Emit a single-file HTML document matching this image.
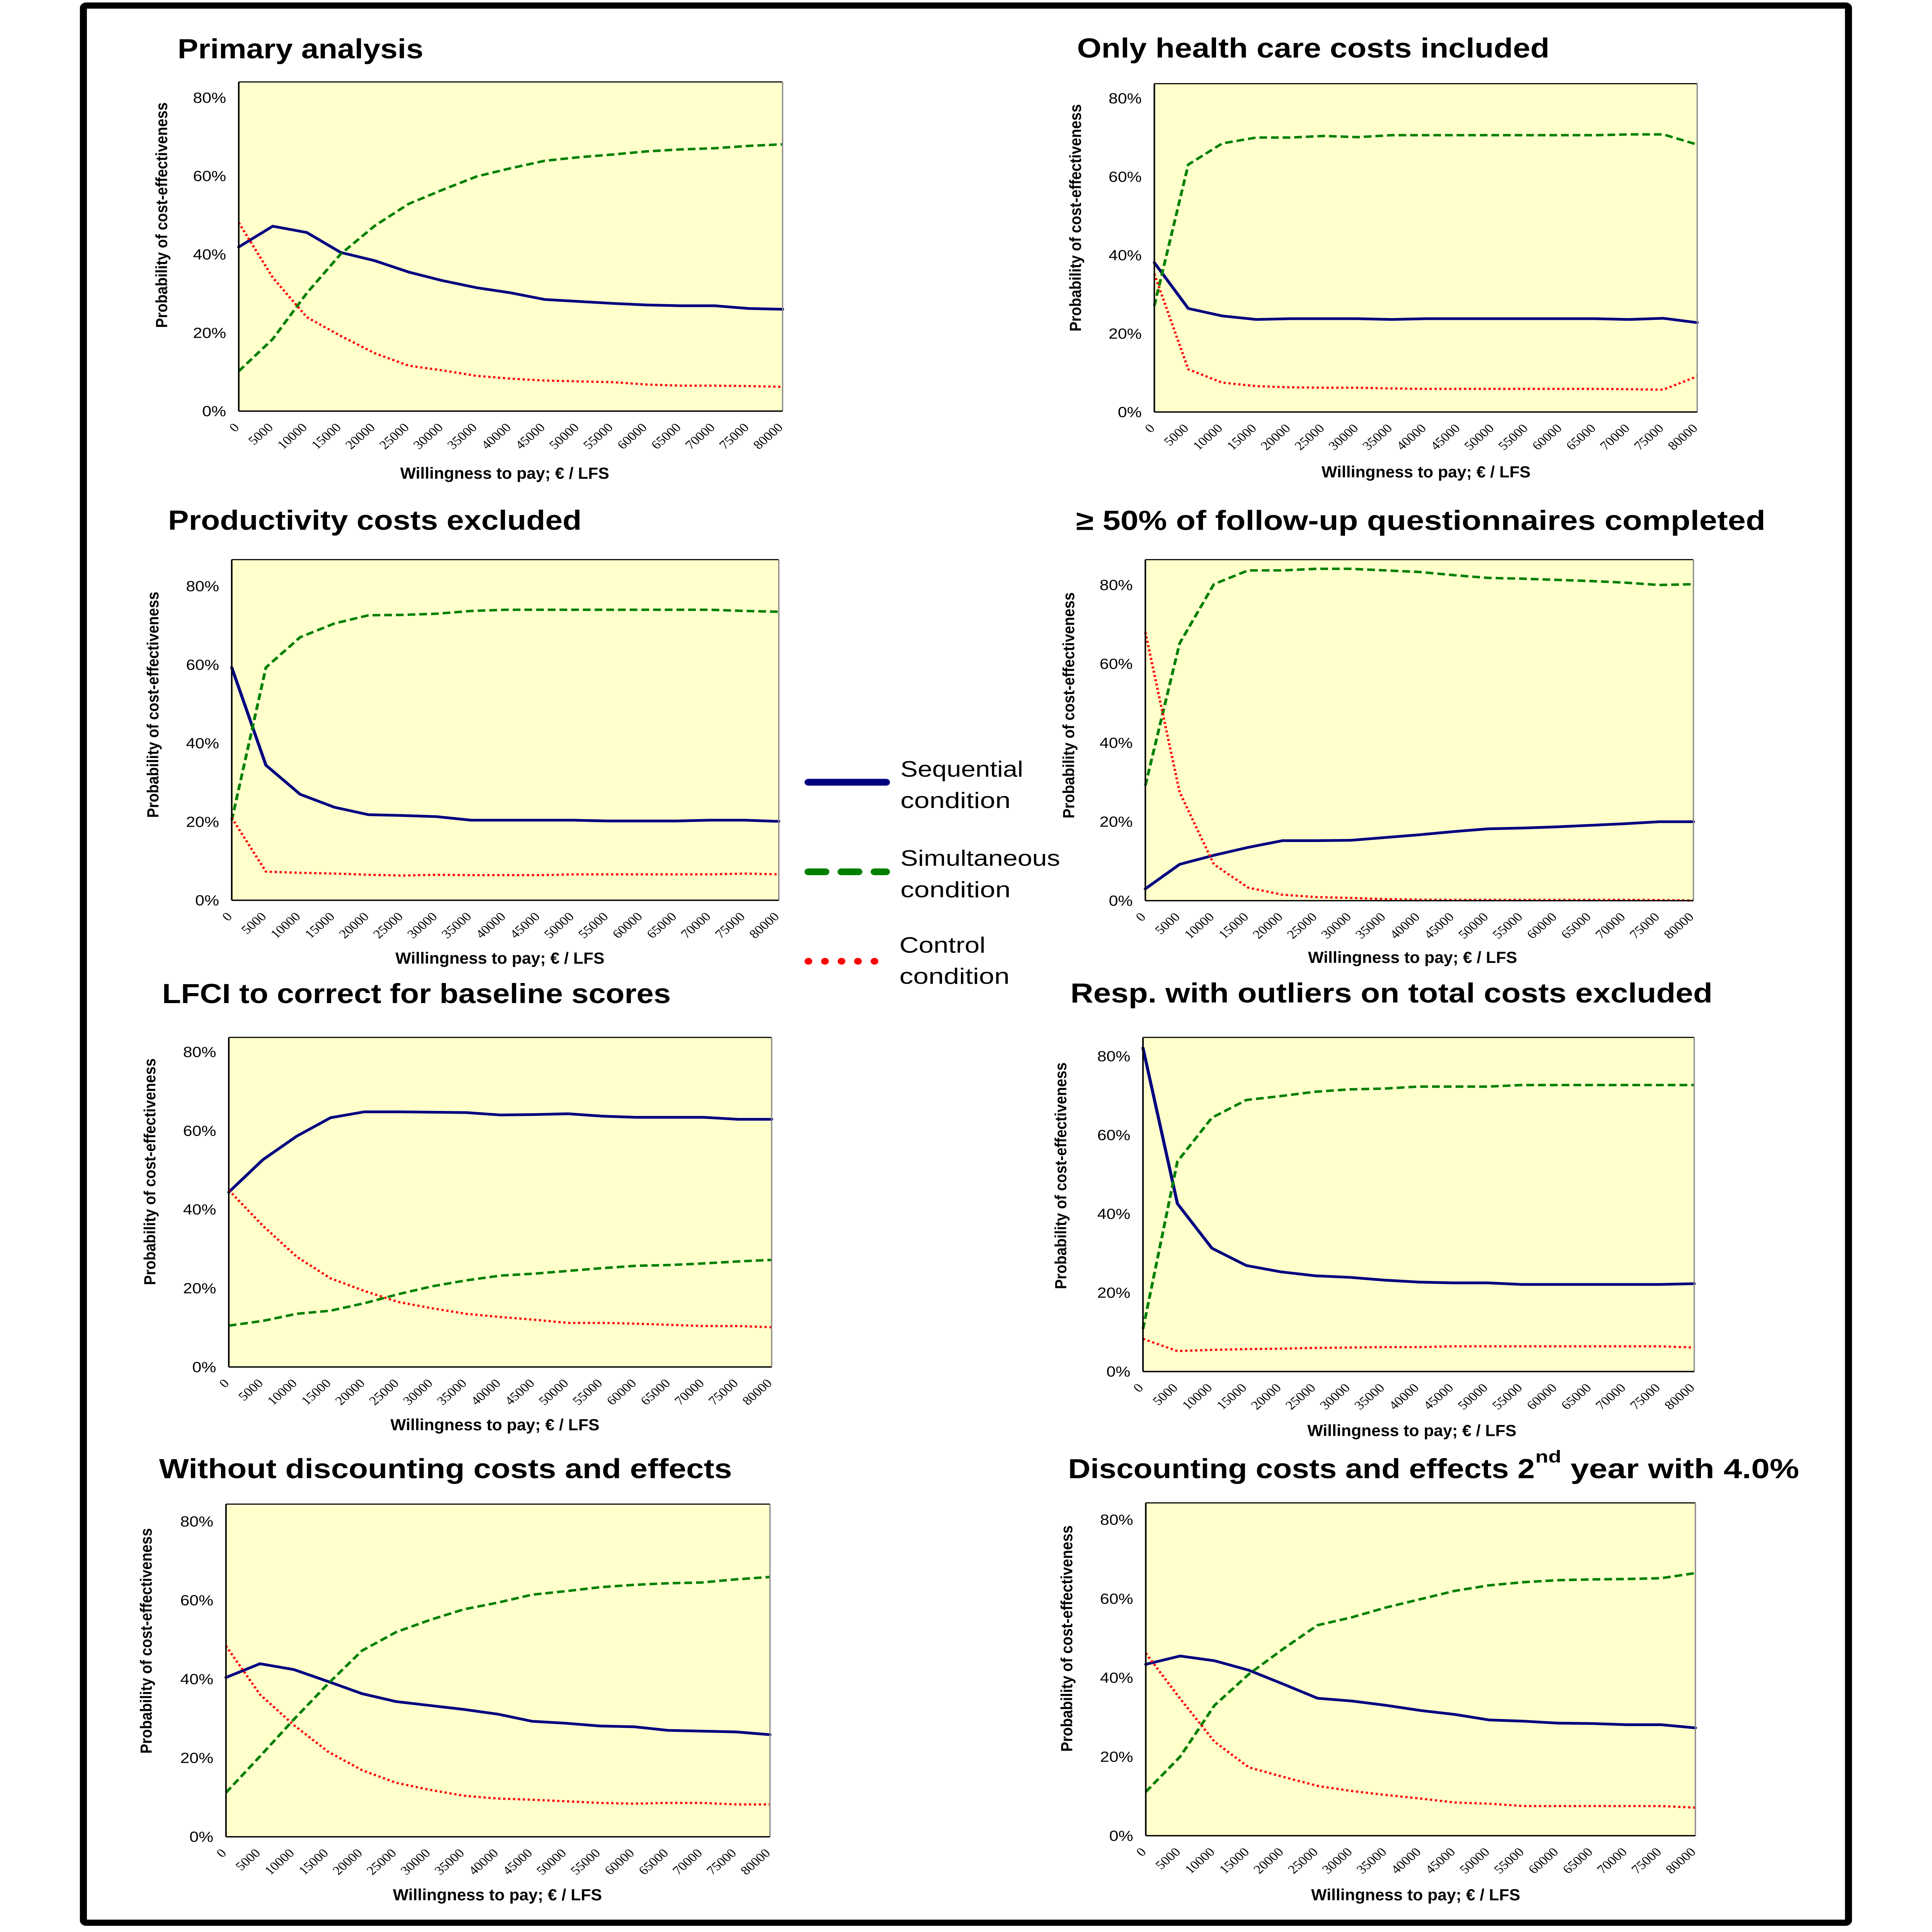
<!DOCTYPE html>
<html>
<head>
<meta charset="utf-8">
<style>
html,body{margin:0;padding:0;background:#fff;overflow:hidden;width:100vw;height:100vh;}
svg{display:block;position:fixed;left:0;top:0;width:100vw;height:100vh;}
text{font-family:"Liberation Sans",sans-serif;fill:#000;}
.tt{font-weight:bold;font-size:22.5px;}
.yl{font-weight:bold;font-size:11.5px;}
.xl{font-weight:bold;font-size:13px;}
.yt{font-size:11.8px;}
.xt text{font-family:"Liberation Serif",serif;font-size:10px;}
.lg{font-size:18px;}
.bl{fill:none;stroke:#000080;stroke-width:0.69;stroke-linejoin:round;stroke-linecap:round;}
.gr{fill:none;stroke:#008000;stroke-width:0.63;stroke-dasharray:1.72 0.88;stroke-linejoin:round;}
.rd{fill:none;stroke:#ff0000;stroke-width:0.56;stroke-dasharray:0.5 0.6;stroke-linejoin:round;}
.pa{fill:#ffffcc;stroke:none;}
</style>
</head>
<body>
<svg viewBox="0 0 1377.28 1568.08" preserveAspectRatio="none" xmlns="http://www.w3.org/2000/svg">
<rect x="0" y="0" width="1377.28" height="1568.08" fill="#fff"/>
<rect x="59.45" y="4.5" width="1258.3" height="1556.05" fill="none" stroke="#000" stroke-width="5" rx="2"/>

<!-- ================= CHART 1 ================= -->
<rect class="pa" x="170.2" y="66.5" width="387.7" height="267.2"/>
<g transform="translate(170.2,333.7) scale(3.1882,-3.18)">
<polyline class="bl" points="0,41.9 7.6,47.2 15.2,45.6 22.8,40.5 30.4,38.4 38,35.5 45.6,33.3 53.2,31.5 60.8,30.2 68.4,28.5 76,28 83.6,27.5 91.2,27.1 98.8,26.9 106.4,26.9 114,26.2 121.6,26"/>
<polyline class="gr" points="0,10.2 7.6,18.4 15.2,30.1 22.8,40.1 30.4,47.3 38,52.9 45.6,56.5 53.2,59.9 60.8,62 68.4,63.9 76,64.8 83.6,65.5 91.2,66.3 98.8,66.8 106.4,67.1 114,67.7 121.6,68.1"/>
<polyline class="rd" points="0,48.1 7.6,34.1 15.2,24 22.8,19.2 30.4,14.8 38,11.6 45.6,10.4 53.2,9 60.8,8.3 68.4,7.8 76,7.6 83.6,7.4 91.2,6.8 98.8,6.5 106.4,6.5 114,6.4 121.6,6.2"/>
</g>
<line x1="170.2" y1="66.5" x2="557.9" y2="66.5" stroke="#000" stroke-width="0.9"/>
<line x1="557.9" y1="66.5" x2="557.9" y2="333.7" stroke="#888" stroke-width="0.9"/>
<line x1="170.2" y1="66.5" x2="170.2" y2="333.7" stroke="#000" stroke-width="1.1"/>
<line x1="170.2" y1="333.7" x2="557.9" y2="333.7" stroke="#000" stroke-width="1.1"/>
<g class="yt" text-anchor="end">
<text x="161.2" y="337.8">0%</text><text x="161.2" y="274.2">20%</text><text x="161.2" y="210.6">40%</text><text x="161.2" y="147.0">60%</text><text x="161.2" y="83.4">80%</text>
</g>
<g class="xt" text-anchor="end" transform="translate(171.0,347.5) scale(1.0012,1)">
<text transform="translate(0,0) rotate(-45)">0</text>
<text transform="translate(24.2,0) rotate(-45)">5000</text>
<text transform="translate(48.4,0) rotate(-45)">10000</text>
<text transform="translate(72.6,0) rotate(-45)">15000</text>
<text transform="translate(96.8,0) rotate(-45)">20000</text>
<text transform="translate(121,0) rotate(-45)">25000</text>
<text transform="translate(145.2,0) rotate(-45)">30000</text>
<text transform="translate(169.4,0) rotate(-45)">35000</text>
<text transform="translate(193.6,0) rotate(-45)">40000</text>
<text transform="translate(217.8,0) rotate(-45)">45000</text>
<text transform="translate(242,0) rotate(-45)">50000</text>
<text transform="translate(266.2,0) rotate(-45)">55000</text>
<text transform="translate(290.4,0) rotate(-45)">60000</text>
<text transform="translate(314.6,0) rotate(-45)">65000</text>
<text transform="translate(338.8,0) rotate(-45)">70000</text>
<text transform="translate(363,0) rotate(-45)">75000</text>
<text transform="translate(387.2,0) rotate(-45)">80000</text>
</g>
<text class="tt" x="126.6" y="47.3" textLength="175.2" lengthAdjust="spacingAndGlyphs">Primary analysis</text>
<text class="yl" transform="translate(119.2,174.6) rotate(-90)" text-anchor="middle" textLength="183" lengthAdjust="spacingAndGlyphs">Probability of cost-effectiveness</text>
<text class="xl" x="359.8" y="388.6" text-anchor="middle" textLength="149" lengthAdjust="spacingAndGlyphs">Willingness to pay; € / LFS</text>

<!-- ================= CHART 2 ================= -->
<rect class="pa" x="822.9" y="67.9" width="387" height="266.5"/>
<g transform="translate(822.9,334.4) scale(3.1826,-3.1825)">
<polyline class="bl" points="0,38.1 7.6,26.4 15.2,24.5 22.8,23.6 30.4,23.8 38,23.8 45.6,23.8 53.2,23.6 60.8,23.8 68.4,23.8 76,23.8 83.6,23.8 91.2,23.8 98.8,23.8 106.4,23.6 114,23.9 121.6,22.8"/>
<polyline class="gr" points="0,27.1 7.6,63.1 15.2,68.5 22.8,70 30.4,70 38,70.4 45.6,70.1 53.2,70.6 60.8,70.6 68.4,70.6 76,70.6 83.6,70.6 91.2,70.6 98.8,70.6 106.4,70.8 114,70.8 121.6,68.2"/>
<polyline class="rd" points="0,35.2 7.6,10.9 15.2,7.5 22.8,6.6 30.4,6.3 38,6.2 45.6,6.2 53.2,6 60.8,5.9 68.4,5.9 76,5.9 83.6,5.9 91.2,5.9 98.8,5.9 106.4,5.8 114,5.7 121.6,9.1"/>
</g>
<line x1="822.9" y1="67.9" x2="1209.9" y2="67.9" stroke="#000" stroke-width="0.9"/>
<line x1="1209.9" y1="67.9" x2="1209.9" y2="334.4" stroke="#888" stroke-width="0.9"/>
<line x1="822.9" y1="67.9" x2="822.9" y2="334.4" stroke="#000" stroke-width="1.1"/>
<line x1="822.9" y1="334.4" x2="1209.9" y2="334.4" stroke="#000" stroke-width="1.1"/>
<g class="yt" text-anchor="end">
<text x="813.9" y="338.5">0%</text><text x="813.9" y="274.85">20%</text><text x="813.9" y="211.2">40%</text><text x="813.9" y="147.55">60%</text><text x="813.9" y="83.9">80%</text>
</g>
<g class="xt" text-anchor="end" transform="translate(823.7,348.2) scale(0.9995,1)">
<text transform="translate(0,0) rotate(-45)">0</text>
<text transform="translate(24.2,0) rotate(-45)">5000</text>
<text transform="translate(48.4,0) rotate(-45)">10000</text>
<text transform="translate(72.6,0) rotate(-45)">15000</text>
<text transform="translate(96.8,0) rotate(-45)">20000</text>
<text transform="translate(121,0) rotate(-45)">25000</text>
<text transform="translate(145.2,0) rotate(-45)">30000</text>
<text transform="translate(169.4,0) rotate(-45)">35000</text>
<text transform="translate(193.6,0) rotate(-45)">40000</text>
<text transform="translate(217.8,0) rotate(-45)">45000</text>
<text transform="translate(242,0) rotate(-45)">50000</text>
<text transform="translate(266.2,0) rotate(-45)">55000</text>
<text transform="translate(290.4,0) rotate(-45)">60000</text>
<text transform="translate(314.6,0) rotate(-45)">65000</text>
<text transform="translate(338.8,0) rotate(-45)">70000</text>
<text transform="translate(363,0) rotate(-45)">75000</text>
<text transform="translate(387.2,0) rotate(-45)">80000</text>
</g>
<text class="tt" x="767.8" y="46.7" textLength="336.8" lengthAdjust="spacingAndGlyphs">Only health care costs included</text>
<text class="yl" transform="translate(770.6,176.8) rotate(-90)" text-anchor="middle" textLength="184.5" lengthAdjust="spacingAndGlyphs">Probability of cost-effectiveness</text>
<text class="xl" x="1016.6" y="387.5" text-anchor="middle" textLength="149" lengthAdjust="spacingAndGlyphs">Willingness to pay; € / LFS</text>

<!-- ================= CHART 3 ================= -->
<rect class="pa" x="165.2" y="454.2" width="390" height="276.5"/>
<g transform="translate(165.2,730.7) scale(3.2072,-3.1863)">
<polyline class="bl" points="0,59.3 7.6,34.4 15.2,27 22.8,23.7 30.4,21.8 38,21.6 45.6,21.3 53.2,20.4 60.8,20.4 68.4,20.4 76,20.4 83.6,20.2 91.2,20.2 98.8,20.2 106.4,20.4 114,20.4 121.6,20.1"/>
<polyline class="gr" points="0,20.4 7.6,59.3 15.2,67 22.8,70.5 30.4,72.6 38,72.7 45.6,73 53.2,73.7 60.8,74 68.4,74 76,74 83.6,74 91.2,74 98.8,74 106.4,74 114,73.7 121.6,73.5"/>
<polyline class="rd" points="0,21 7.6,7.3 15.2,7 22.8,6.8 30.4,6.5 38,6.3 45.6,6.5 53.2,6.4 60.8,6.4 68.4,6.4 76,6.6 83.6,6.6 91.2,6.6 98.8,6.6 106.4,6.6 114,6.8 121.6,6.6"/>
</g>
<line x1="165.2" y1="454.2" x2="555.2" y2="454.2" stroke="#000" stroke-width="0.9"/>
<line x1="555.2" y1="454.2" x2="555.2" y2="730.7" stroke="#888" stroke-width="0.9"/>
<line x1="165.2" y1="454.2" x2="165.2" y2="730.7" stroke="#000" stroke-width="1.1"/>
<line x1="165.2" y1="730.7" x2="555.2" y2="730.7" stroke="#000" stroke-width="1.1"/>
<g class="yt" text-anchor="end">
<text x="156.2" y="734.8">0%</text><text x="156.2" y="671.1">20%</text><text x="156.2" y="607.35">40%</text><text x="156.2" y="543.6">60%</text><text x="156.2" y="479.9">80%</text>
</g>
<g class="xt" text-anchor="end" transform="translate(166.0,744.5) scale(1.0072,1)">
<text transform="translate(0,0) rotate(-45)">0</text>
<text transform="translate(24.2,0) rotate(-45)">5000</text>
<text transform="translate(48.4,0) rotate(-45)">10000</text>
<text transform="translate(72.6,0) rotate(-45)">15000</text>
<text transform="translate(96.8,0) rotate(-45)">20000</text>
<text transform="translate(121,0) rotate(-45)">25000</text>
<text transform="translate(145.2,0) rotate(-45)">30000</text>
<text transform="translate(169.4,0) rotate(-45)">35000</text>
<text transform="translate(193.6,0) rotate(-45)">40000</text>
<text transform="translate(217.8,0) rotate(-45)">45000</text>
<text transform="translate(242,0) rotate(-45)">50000</text>
<text transform="translate(266.2,0) rotate(-45)">55000</text>
<text transform="translate(290.4,0) rotate(-45)">60000</text>
<text transform="translate(314.6,0) rotate(-45)">65000</text>
<text transform="translate(338.8,0) rotate(-45)">70000</text>
<text transform="translate(363,0) rotate(-45)">75000</text>
<text transform="translate(387.2,0) rotate(-45)">80000</text>
</g>
<text class="tt" x="119.8" y="430" textLength="294.8" lengthAdjust="spacingAndGlyphs">Productivity costs excluded</text>
<text class="yl" transform="translate(112.9,572) rotate(-90)" text-anchor="middle" textLength="183.5" lengthAdjust="spacingAndGlyphs">Probability of cost-effectiveness</text>
<text class="xl" x="356.4" y="782.1" text-anchor="middle" textLength="149" lengthAdjust="spacingAndGlyphs">Willingness to pay; € / LFS</text>

<!-- ================= CHART 4 ================= -->
<rect class="pa" x="816.5" y="454.2" width="390.7" height="276.8"/>
<g transform="translate(816.5,731.0) scale(3.2130,-3.2025)">
<polyline class="bl" points="0,3 7.6,9.2 15.2,11.5 22.8,13.5 30.4,15.2 38,15.2 45.6,15.3 53.2,16 60.8,16.7 68.4,17.5 76,18.2 83.6,18.4 91.2,18.7 98.8,19.1 106.4,19.5 114,20 121.6,20"/>
<polyline class="gr" points="0,29.2 7.6,65.2 15.2,80.2 22.8,83.7 30.4,83.7 38,84.1 45.6,84.1 53.2,83.7 60.8,83.3 68.4,82.5 76,81.8 83.6,81.6 91.2,81.3 98.8,81 106.4,80.6 114,80 121.6,80.2"/>
<polyline class="rd" points="0,68 7.6,27.5 15.2,9.2 22.8,3.3 30.4,1.5 38,0.9 45.6,0.7 53.2,0.4 60.8,0.25 68.4,0.2 76,0.2 83.6,0.2 91.2,0.2 98.8,0.2 106.4,0.2 114,0.15 121.6,0.05"/>
</g>
<line x1="816.5" y1="454.2" x2="1207.2" y2="454.2" stroke="#000" stroke-width="0.9"/>
<line x1="1207.2" y1="454.2" x2="1207.2" y2="731.0" stroke="#888" stroke-width="0.9"/>
<line x1="816.5" y1="454.2" x2="816.5" y2="731.0" stroke="#000" stroke-width="1.1"/>
<line x1="816.5" y1="731.0" x2="1207.2" y2="731.0" stroke="#000" stroke-width="1.1"/>
<g class="yt" text-anchor="end">
<text x="807.5" y="735.1">0%</text><text x="807.5" y="671.05">20%</text><text x="807.5" y="607.0">40%</text><text x="807.5" y="542.95">60%</text><text x="807.5" y="478.9">80%</text>
</g>
<g class="xt" text-anchor="end" transform="translate(817.3,744.8) scale(1.0091,1)">
<text transform="translate(0,0) rotate(-45)">0</text>
<text transform="translate(24.2,0) rotate(-45)">5000</text>
<text transform="translate(48.4,0) rotate(-45)">10000</text>
<text transform="translate(72.6,0) rotate(-45)">15000</text>
<text transform="translate(96.8,0) rotate(-45)">20000</text>
<text transform="translate(121,0) rotate(-45)">25000</text>
<text transform="translate(145.2,0) rotate(-45)">30000</text>
<text transform="translate(169.4,0) rotate(-45)">35000</text>
<text transform="translate(193.6,0) rotate(-45)">40000</text>
<text transform="translate(217.8,0) rotate(-45)">45000</text>
<text transform="translate(242,0) rotate(-45)">50000</text>
<text transform="translate(266.2,0) rotate(-45)">55000</text>
<text transform="translate(290.4,0) rotate(-45)">60000</text>
<text transform="translate(314.6,0) rotate(-45)">65000</text>
<text transform="translate(338.8,0) rotate(-45)">70000</text>
<text transform="translate(363,0) rotate(-45)">75000</text>
<text transform="translate(387.2,0) rotate(-45)">80000</text>
</g>
<text class="tt" x="767.1" y="430.2" textLength="491.4" lengthAdjust="spacingAndGlyphs">≥ 50% of follow-up questionnaires completed</text>
<text class="yl" transform="translate(765.7,572.5) rotate(-90)" text-anchor="middle" textLength="183.5" lengthAdjust="spacingAndGlyphs">Probability of cost-effectiveness</text>
<text class="xl" x="1007" y="781.5" text-anchor="middle" textLength="149" lengthAdjust="spacingAndGlyphs">Willingness to pay; € / LFS</text>

<!-- ================= LEGEND ================= -->
<line x1="576.3" y1="634.9" x2="631.7" y2="634.9" stroke="#000080" stroke-width="5.5" stroke-linecap="round"/>
<text class="lg" x="641.9" y="630.4" textLength="87.5" lengthAdjust="spacingAndGlyphs">Sequential</text>
<text class="lg" x="641.9" y="655.7" textLength="78.5" lengthAdjust="spacingAndGlyphs">condition</text>
<g stroke="#008000" stroke-width="5.5" stroke-linecap="round">
<line x1="576.3" y1="707.6" x2="588.5" y2="707.6"/>
<line x1="599.8" y1="707.6" x2="612.0" y2="707.6"/>
<line x1="623.4" y1="707.6" x2="631.7" y2="707.6"/>
</g>
<text class="lg" x="641.9" y="702.6" textLength="113.8" lengthAdjust="spacingAndGlyphs">Simultaneous</text>
<text class="lg" x="641.9" y="728.2" textLength="78.5" lengthAdjust="spacingAndGlyphs">condition</text>
<g fill="#ff0000">
<circle cx="576.3" cy="780.2" r="2.75"/>
<circle cx="588.1" cy="780.2" r="2.75"/>
<circle cx="599.9" cy="780.2" r="2.75"/>
<circle cx="611.6" cy="780.2" r="2.75"/>
<circle cx="623.4" cy="780.2" r="2.75"/>
</g>
<text class="lg" x="641.2" y="773.3" textLength="61.3" lengthAdjust="spacingAndGlyphs">Control</text>
<text class="lg" x="641.2" y="798.4" textLength="78.5" lengthAdjust="spacingAndGlyphs">condition</text>

<!-- ================= CHART 5 ================= -->
<rect class="pa" x="163.1" y="842.0" width="387" height="267.5"/>
<g transform="translate(163.1,1109.5) scale(3.1826,-3.1963)">
<polyline class="bl" points="0,44.4 7.6,52.6 15.2,58.6 22.8,63.3 30.4,64.8 38,64.8 45.6,64.7 53.2,64.6 60.8,64 68.4,64.1 76,64.3 83.6,63.7 91.2,63.4 98.8,63.4 106.4,63.4 114,62.9 121.6,62.9"/>
<polyline class="gr" points="0,10.5 7.6,11.7 15.2,13.5 22.8,14.3 30.4,16.2 38,18.5 45.6,20.5 53.2,22 60.8,23.2 68.4,23.7 76,24.4 83.6,25.1 91.2,25.7 98.8,25.9 106.4,26.3 114,26.8 121.6,27.2"/>
<polyline class="rd" points="0,44.9 7.6,35.9 15.2,28 22.8,22.5 30.4,19.3 38,16.5 45.6,14.9 53.2,13.5 60.8,12.7 68.4,12 76,11.2 83.6,11.2 91.2,11 98.8,10.7 106.4,10.4 114,10.4 121.6,10.1"/>
</g>
<line x1="163.1" y1="842.0" x2="550.1" y2="842.0" stroke="#000" stroke-width="0.9"/>
<line x1="550.1" y1="842.0" x2="550.1" y2="1109.5" stroke="#888" stroke-width="0.9"/>
<line x1="163.1" y1="842.0" x2="163.1" y2="1109.5" stroke="#000" stroke-width="1.1"/>
<line x1="163.1" y1="1109.5" x2="550.1" y2="1109.5" stroke="#000" stroke-width="1.1"/>
<g class="yt" text-anchor="end">
<text x="154.1" y="1113.6">0%</text><text x="154.1" y="1049.7">20%</text><text x="154.1" y="985.75">40%</text><text x="154.1" y="921.8">60%</text><text x="154.1" y="857.9">80%</text>
</g>
<g class="xt" text-anchor="end" transform="translate(163.9,1123.3) scale(0.9995,1)">
<text transform="translate(0,0) rotate(-45)">0</text>
<text transform="translate(24.2,0) rotate(-45)">5000</text>
<text transform="translate(48.4,0) rotate(-45)">10000</text>
<text transform="translate(72.6,0) rotate(-45)">15000</text>
<text transform="translate(96.8,0) rotate(-45)">20000</text>
<text transform="translate(121,0) rotate(-45)">25000</text>
<text transform="translate(145.2,0) rotate(-45)">30000</text>
<text transform="translate(169.4,0) rotate(-45)">35000</text>
<text transform="translate(193.6,0) rotate(-45)">40000</text>
<text transform="translate(217.8,0) rotate(-45)">45000</text>
<text transform="translate(242,0) rotate(-45)">50000</text>
<text transform="translate(266.2,0) rotate(-45)">55000</text>
<text transform="translate(290.4,0) rotate(-45)">60000</text>
<text transform="translate(314.6,0) rotate(-45)">65000</text>
<text transform="translate(338.8,0) rotate(-45)">70000</text>
<text transform="translate(363,0) rotate(-45)">75000</text>
<text transform="translate(387.2,0) rotate(-45)">80000</text>
</g>
<text class="tt" x="115.6" y="814.2" textLength="362.6" lengthAdjust="spacingAndGlyphs">LFCI to correct for baseline scores</text>
<text class="yl" transform="translate(110.7,951) rotate(-90)" text-anchor="middle" textLength="184" lengthAdjust="spacingAndGlyphs">Probability of cost-effectiveness</text>
<text class="xl" x="352.8" y="1160.8" text-anchor="middle" textLength="149" lengthAdjust="spacingAndGlyphs">Willingness to pay; € / LFS</text>

<!-- ================= CHART 6 ================= -->
<rect class="pa" x="814.8" y="842.0" width="393" height="271.2"/>
<g transform="translate(814.8,1113.2) scale(3.2319,-3.1988)">
<polyline class="bl" points="0,82.1 7.6,42.6 15.2,31.3 22.8,26.9 30.4,25.3 38,24.3 45.6,23.9 53.2,23.2 60.8,22.7 68.4,22.5 76,22.5 83.6,22.1 91.2,22.1 98.8,22.1 106.4,22.1 114,22.1 121.6,22.3"/>
<polyline class="gr" points="0,10.8 7.6,53.3 15.2,64.4 22.8,68.9 30.4,69.9 38,71 45.6,71.6 53.2,71.8 60.8,72.3 68.4,72.3 76,72.3 83.6,72.7 91.2,72.7 98.8,72.7 106.4,72.7 114,72.7 121.6,72.7"/>
<polyline class="rd" points="0,8.3 7.6,5.2 15.2,5.5 22.8,5.7 30.4,5.8 38,6 45.6,6.1 53.2,6.2 60.8,6.2 68.4,6.4 76,6.4 83.6,6.4 91.2,6.4 98.8,6.4 106.4,6.4 114,6.4 121.6,6.1"/>
</g>
<line x1="814.8" y1="842.0" x2="1207.8" y2="842.0" stroke="#000" stroke-width="0.9"/>
<line x1="1207.8" y1="842.0" x2="1207.8" y2="1113.2" stroke="#888" stroke-width="0.9"/>
<line x1="814.8" y1="842.0" x2="814.8" y2="1113.2" stroke="#000" stroke-width="1.1"/>
<line x1="814.8" y1="1113.2" x2="1207.8" y2="1113.2" stroke="#000" stroke-width="1.1"/>
<g class="yt" text-anchor="end">
<text x="805.8" y="1117.3">0%</text><text x="805.8" y="1053.3">20%</text><text x="805.8" y="989.35">40%</text><text x="805.8" y="925.4">60%</text><text x="805.8" y="861.4">80%</text>
</g>
<g class="xt" text-anchor="end" transform="translate(815.6,1127.0) scale(1.015,1)">
<text transform="translate(0,0) rotate(-45)">0</text>
<text transform="translate(24.2,0) rotate(-45)">5000</text>
<text transform="translate(48.4,0) rotate(-45)">10000</text>
<text transform="translate(72.6,0) rotate(-45)">15000</text>
<text transform="translate(96.8,0) rotate(-45)">20000</text>
<text transform="translate(121,0) rotate(-45)">25000</text>
<text transform="translate(145.2,0) rotate(-45)">30000</text>
<text transform="translate(169.4,0) rotate(-45)">35000</text>
<text transform="translate(193.6,0) rotate(-45)">40000</text>
<text transform="translate(217.8,0) rotate(-45)">45000</text>
<text transform="translate(242,0) rotate(-45)">50000</text>
<text transform="translate(266.2,0) rotate(-45)">55000</text>
<text transform="translate(290.4,0) rotate(-45)">60000</text>
<text transform="translate(314.6,0) rotate(-45)">65000</text>
<text transform="translate(338.8,0) rotate(-45)">70000</text>
<text transform="translate(363,0) rotate(-45)">75000</text>
<text transform="translate(387.2,0) rotate(-45)">80000</text>
</g>
<text class="tt" x="763.1" y="813.7" textLength="457.7" lengthAdjust="spacingAndGlyphs">Resp. with outliers on total costs excluded</text>
<text class="yl" transform="translate(760.1,954.3) rotate(-90)" text-anchor="middle" textLength="184" lengthAdjust="spacingAndGlyphs">Probability of cost-effectiveness</text>
<text class="xl" x="1006.5" y="1165.6" text-anchor="middle" textLength="149" lengthAdjust="spacingAndGlyphs">Willingness to pay; € / LFS</text>

<!-- ================= CHART 7 ================= -->
<rect class="pa" x="161.1" y="1220.8" width="387.8" height="270"/>
<g transform="translate(161.1,1490.8) scale(3.1891,-3.2)">
<polyline class="bl" points="0,40.4 7.6,43.9 15.2,42.4 22.8,39.4 30.4,36.3 38,34.3 45.6,33.3 53.2,32.3 60.8,31.1 68.4,29.3 76,28.8 83.6,28.1 91.2,27.9 98.8,27 106.4,26.8 114,26.6 121.6,25.9"/>
<polyline class="gr" points="0,11.2 7.6,20.4 15.2,29.8 22.8,38.8 30.4,47.2 38,51.9 45.6,55 53.2,57.7 60.8,59.4 68.4,61.4 76,62.3 83.6,63.3 91.2,63.9 98.8,64.3 106.4,64.5 114,65.3 121.6,65.9"/>
<polyline class="rd" points="0,48.4 7.6,36.1 15.2,28.3 22.8,21.6 30.4,16.9 38,13.7 45.6,11.9 53.2,10.4 60.8,9.7 68.4,9.4 76,9 83.6,8.6 91.2,8.4 98.8,8.6 106.4,8.6 114,8.2 121.6,8.2"/>
</g>
<line x1="161.1" y1="1220.8" x2="548.9" y2="1220.8" stroke="#000" stroke-width="0.9"/>
<line x1="548.9" y1="1220.8" x2="548.9" y2="1490.8" stroke="#888" stroke-width="0.9"/>
<line x1="161.1" y1="1220.8" x2="161.1" y2="1490.8" stroke="#000" stroke-width="1.1"/>
<line x1="161.1" y1="1490.8" x2="548.9" y2="1490.8" stroke="#000" stroke-width="1.1"/>
<g class="yt" text-anchor="end">
<text x="152.1" y="1494.9">0%</text><text x="152.1" y="1430.9">20%</text><text x="152.1" y="1366.9">40%</text><text x="152.1" y="1302.9">60%</text><text x="152.1" y="1238.9">80%</text>
</g>
<g class="xt" text-anchor="end" transform="translate(161.9,1504.6) scale(1.0015,1)">
<text transform="translate(0,0) rotate(-45)">0</text>
<text transform="translate(24.2,0) rotate(-45)">5000</text>
<text transform="translate(48.4,0) rotate(-45)">10000</text>
<text transform="translate(72.6,0) rotate(-45)">15000</text>
<text transform="translate(96.8,0) rotate(-45)">20000</text>
<text transform="translate(121,0) rotate(-45)">25000</text>
<text transform="translate(145.2,0) rotate(-45)">30000</text>
<text transform="translate(169.4,0) rotate(-45)">35000</text>
<text transform="translate(193.6,0) rotate(-45)">40000</text>
<text transform="translate(217.8,0) rotate(-45)">45000</text>
<text transform="translate(242,0) rotate(-45)">50000</text>
<text transform="translate(266.2,0) rotate(-45)">55000</text>
<text transform="translate(290.4,0) rotate(-45)">60000</text>
<text transform="translate(314.6,0) rotate(-45)">65000</text>
<text transform="translate(338.8,0) rotate(-45)">70000</text>
<text transform="translate(363,0) rotate(-45)">75000</text>
<text transform="translate(387.2,0) rotate(-45)">80000</text>
</g>
<text class="tt" x="113.4" y="1199.8" textLength="408.4" lengthAdjust="spacingAndGlyphs">Without discounting costs and effects</text>
<text class="yl" transform="translate(108.1,1331.8) rotate(-90)" text-anchor="middle" textLength="183" lengthAdjust="spacingAndGlyphs">Probability of cost-effectiveness</text>
<text class="xl" x="354.6" y="1542.3" text-anchor="middle" textLength="149" lengthAdjust="spacingAndGlyphs">Willingness to pay; € / LFS</text>

<!-- ================= CHART 8 ================= -->
<rect class="pa" x="816.8" y="1219.8" width="391.8" height="270.1"/>
<g transform="translate(816.8,1489.9) scale(3.2220,-3.205)">
<polyline class="bl" points="0,43.4 7.6,45.5 15.2,44.3 22.8,41.9 30.4,38.4 38,34.8 45.6,34.1 53.2,33 60.8,31.7 68.4,30.7 76,29.3 83.6,29 91.2,28.5 98.8,28.4 106.4,28.1 114,28.1 121.6,27.3"/>
<polyline class="gr" points="0,11.1 7.6,20 15.2,33 22.8,40.9 30.4,47.3 38,53.3 45.6,55.3 53.2,57.8 60.8,59.9 68.4,62 76,63.4 83.6,64.2 91.2,64.7 98.8,64.9 106.4,65 114,65.2 121.6,66.5"/>
<polyline class="rd" points="0,46.2 7.6,34.7 15.2,23.8 22.8,17.3 30.4,14.9 38,12.6 45.6,11.3 53.2,10.3 60.8,9.4 68.4,8.4 76,8.1 83.6,7.5 91.2,7.5 98.8,7.5 106.4,7.5 114,7.5 121.6,7.1"/>
</g>
<line x1="816.8" y1="1219.8" x2="1208.6" y2="1219.8" stroke="#000" stroke-width="0.9"/>
<line x1="1208.6" y1="1219.8" x2="1208.6" y2="1489.9" stroke="#888" stroke-width="0.9"/>
<line x1="816.8" y1="1219.8" x2="816.8" y2="1489.9" stroke="#000" stroke-width="1.1"/>
<line x1="816.8" y1="1489.9" x2="1208.6" y2="1489.9" stroke="#000" stroke-width="1.1"/>
<g class="yt" text-anchor="end">
<text x="807.8" y="1494.0">0%</text><text x="807.8" y="1429.9">20%</text><text x="807.8" y="1365.8">40%</text><text x="807.8" y="1301.7">60%</text><text x="807.8" y="1237.6">80%</text>
</g>
<g class="xt" text-anchor="end" transform="translate(817.6,1503.7) scale(1.0119,1)">
<text transform="translate(0,0) rotate(-45)">0</text>
<text transform="translate(24.2,0) rotate(-45)">5000</text>
<text transform="translate(48.4,0) rotate(-45)">10000</text>
<text transform="translate(72.6,0) rotate(-45)">15000</text>
<text transform="translate(96.8,0) rotate(-45)">20000</text>
<text transform="translate(121,0) rotate(-45)">25000</text>
<text transform="translate(145.2,0) rotate(-45)">30000</text>
<text transform="translate(169.4,0) rotate(-45)">35000</text>
<text transform="translate(193.6,0) rotate(-45)">40000</text>
<text transform="translate(217.8,0) rotate(-45)">45000</text>
<text transform="translate(242,0) rotate(-45)">50000</text>
<text transform="translate(266.2,0) rotate(-45)">55000</text>
<text transform="translate(290.4,0) rotate(-45)">60000</text>
<text transform="translate(314.6,0) rotate(-45)">65000</text>
<text transform="translate(338.8,0) rotate(-45)">70000</text>
<text transform="translate(363,0) rotate(-45)">75000</text>
<text transform="translate(387.2,0) rotate(-45)">80000</text>
</g>
<text class="tt" x="761.4" y="1199.8" textLength="332.7" lengthAdjust="spacingAndGlyphs">Discounting costs and effects 2</text>
<text class="tt" x="1094.5" y="1187.1" style="font-size:14px" textLength="18.5" lengthAdjust="spacingAndGlyphs">nd</text>
<text class="tt" x="1119.6" y="1199.8" textLength="163" lengthAdjust="spacingAndGlyphs">year with 4.0%</text>
<text class="yl" transform="translate(764.4,1329.9) rotate(-90)" text-anchor="middle" textLength="183.7" lengthAdjust="spacingAndGlyphs">Probability of cost-effectiveness</text>
<text class="xl" x="1009.2" y="1542.3" text-anchor="middle" textLength="149" lengthAdjust="spacingAndGlyphs">Willingness to pay; € / LFS</text>
</svg>
</body>
</html>
